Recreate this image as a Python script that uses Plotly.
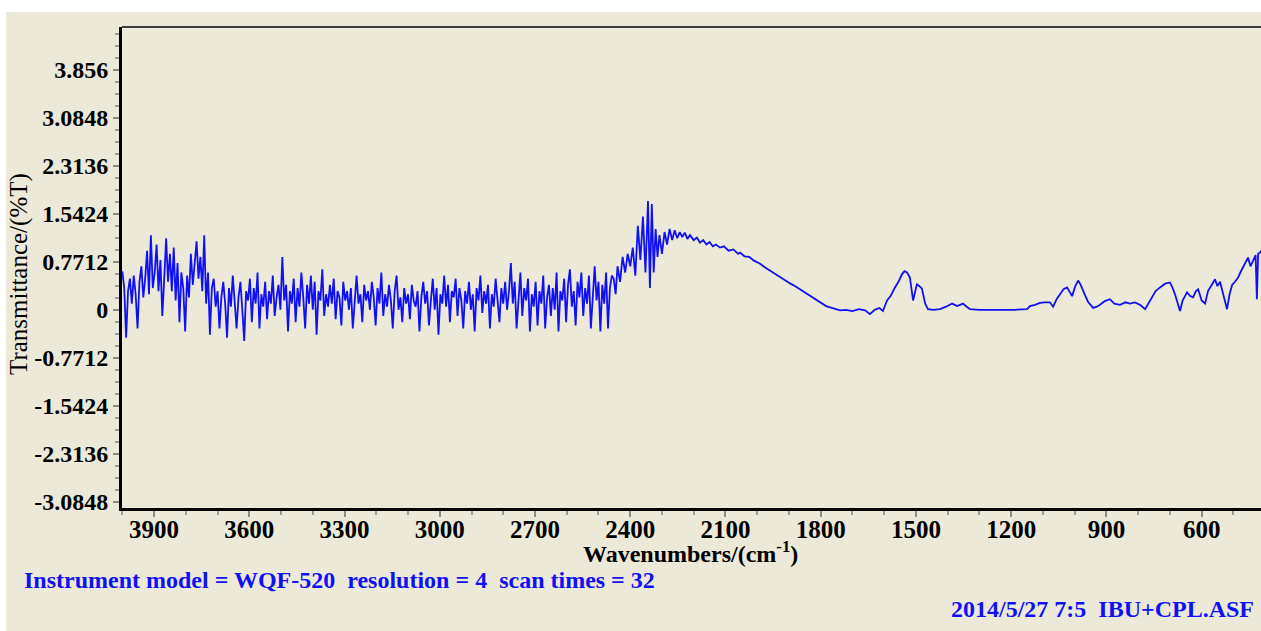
import plotly.graph_objects as go

# ---------------- data ----------------
# noisy region sampled every 6 cm-1 from 4000 down to 2458
noise_wavenumbers = list(range(4000, 2456, -6))
noise_values = [
    0.62, 0.35, -0.45, 0.3, 0.5, 0.1, 0.55, 0.25, -0.3, 0.45, 0.7, 0.2,
    0.5, 0.95, 0.25, 1.2, 0.35, 0.6, 1.05, 0.3, 0.8, -0.1, 0.5, 1.15,
    0.45, 0.9, 0.3, 1.0, 0.15, 0.75, -0.2, 0.6, 0.35, -0.35, 0.55, 0.2,
    0.9, 0.4, 0.75, 1.1, 0.5, 0.85, 0.3, 1.2, 0.1, 0.6, -0.4, 0.35,
    0.5, 0.05, 0.3, -0.3, 0.2, 0.45, 0.1, -0.45, 0.35, 0.05, 0.55, 0.15,
    -0.3, 0.2, 0.45, 0.0, -0.5, 0.3, 0.15, 0.5, -0.2, 0.35, 0.1, 0.6,
    -0.3, 0.25, 0.05, 0.45, -0.15, 0.3, 0.1, 0.55, -0.1, 0.2, 0.4, 0.0,
    0.85, 0.15, 0.4, -0.35, 0.3, 0.1, 0.5, -0.2, 0.35, 0.05, 0.6, 0.2,
    -0.3, 0.4, 0.1, 0.55, 0.0, 0.45, -0.4, 0.3, 0.15, 0.65, -0.1, 0.25,
    0.05, 0.4, 0.1, 0.5, -0.15, 0.3, 0.2, -0.25, 0.45, 0.15, 0.3, 0.0,
    0.35, -0.3, 0.2, 0.55, 0.1, 0.25, -0.2, 0.4, 0.15, 0.3, 0.0, 0.45,
    0.2, -0.25, 0.35, 0.1, 0.6, -0.1, 0.25, 0.05, 0.4, 0.15, -0.3, 0.3,
    0.55, 0.0, 0.2, -0.2, 0.35, 0.1, 0.25, -0.15, 0.4, 0.15, 0.05, 0.3,
    -0.35, 0.2, 0.45, 0.1, 0.3, -0.25, 0.15, 0.5, 0.0, 0.35, -0.4, 0.25,
    0.1, 0.55, 0.05, 0.4, -0.2, 0.3, 0.2, 0.5, -0.1, 0.35, 0.15, -0.3,
    0.3, 0.1, 0.45, 0.0, 0.25, -0.35, 0.35, 0.15, 0.55, -0.05, 0.3, 0.1,
    0.4, -0.3, 0.25, 0.05, 0.5, 0.15, -0.2, 0.35, 0.1, 0.45, 0.0, 0.3,
    0.75, 0.1, 0.45, -0.3, 0.2, 0.6, -0.1, 0.35, 0.15, 0.5, -0.35, 0.25,
    0.05, 0.45, -0.25, 0.3, 0.1, 0.55, -0.3, 0.2, 0.4, -0.1, 0.35, 0.0,
    0.6, -0.35, 0.3, 0.15, 0.5, -0.2, 0.4, 0.65, 0.05, 0.3, -0.25, 0.45,
    0.2, 0.6, -0.1, 0.35, 0.1, 0.55, -0.3, 0.3, 0.7, 0.15, 0.45, -0.35,
    0.4, 0.1, 0.6, -0.3, 0.35, 0.55,
]

# remaining spectrum (2452 cm-1 down to 412 cm-1)
band_wavenumbers = [
    2452, 2446, 2440, 2432, 2424, 2416, 2408, 2400, 2392, 2384,
    2376, 2368, 2360, 2352, 2344, 2338, 2332, 2326, 2320, 2314,
    2308, 2300, 2292, 2284, 2276, 2268, 2260, 2252, 2244, 2236,
    2228, 2220, 2212, 2200, 2190, 2180, 2170, 2160, 2150, 2140,
    2130, 2117, 2105, 2090, 2075, 2060, 2054, 2040, 2025, 2010,
    1991, 1975, 1960, 1945, 1928, 1910, 1895, 1880, 1865, 1850,
    1835, 1818, 1800, 1783, 1765, 1750, 1739, 1720, 1700, 1680,
    1660, 1645, 1630, 1615, 1604, 1591, 1580, 1566, 1555, 1544,
    1536, 1528, 1519, 1509, 1503, 1497, 1489, 1481, 1471, 1462,
    1445, 1424, 1405, 1386, 1370, 1352, 1340, 1330, 1300, 1267,
    1230, 1190, 1150, 1141, 1125, 1109, 1095, 1078, 1068, 1056,
    1046, 1035, 1024, 1016, 1008, 998, 989, 981, 974, 966,
    958, 950, 942, 930, 920, 905, 889, 875, 857, 840,
    826, 810, 794, 778, 766, 756, 745, 731, 715, 700,
    692, 684, 676, 668, 660, 646, 636, 627, 618, 611,
    600, 589, 580, 574, 566, 558, 550, 542, 530, 520,
    512, 504, 495, 485, 478, 470, 462, 454, 446, 438,
    430, 426, 422, 416, 412,
]
band_values = [
    0.5, 0.25, 0.7, 0.45, 0.85, 0.6, 0.9, 0.7, 1.0, 0.55,
    1.35, 0.8, 1.5, 0.6, 1.75, 0.35, 1.7, 0.6, 1.3, 0.85,
    1.2, 0.9, 1.25, 1.05, 1.3, 1.12, 1.28, 1.15, 1.25, 1.17,
    1.24, 1.14, 1.2, 1.12, 1.16, 1.08, 1.12, 1.05, 1.09, 1.02,
    1.05, 1.0, 1.02, 0.95, 0.97, 0.9, 0.92, 0.86, 0.85, 0.79,
    0.74, 0.68, 0.63, 0.58, 0.53, 0.47, 0.42, 0.38, 0.33, 0.28,
    0.22, 0.17, 0.11, 0.06, 0.03, 0.01, -0.01, 0.0, -0.02, 0.01,
    -0.01, -0.07, 0.0, 0.03, -0.02, 0.15, 0.22, 0.36, 0.45, 0.57,
    0.62, 0.6, 0.52, 0.15, 0.3, 0.41, 0.38, 0.34, 0.1, 0.01,
    0.0, 0.01, 0.05, 0.1, 0.06, 0.1, 0.05, 0.01, 0.0, 0.0,
    -0.01, 0.0, 0.01, 0.06, 0.08, 0.11, 0.12, 0.12, 0.05, 0.18,
    0.25, 0.33, 0.36, 0.3, 0.22, 0.38, 0.47, 0.4, 0.3, 0.22,
    0.13, 0.07, 0.03, 0.05, 0.08, 0.14, 0.17, 0.1, 0.08, 0.12,
    0.1, 0.12, 0.08, 0.01, 0.12, 0.2, 0.3, 0.36, 0.42, 0.44,
    0.36, 0.25, 0.12, -0.02, 0.15, 0.28, 0.22, 0.2, 0.3, 0.33,
    0.15, 0.1, 0.3, 0.36, 0.42, 0.49, 0.38, 0.45, 0.2, 0.01,
    0.25, 0.4, 0.45, 0.52, 0.6, 0.68, 0.75, 0.84, 0.7, 0.8,
    0.88, 0.17, 0.9, 0.92, 0.95,
]
assert len(noise_wavenumbers) == len(noise_values)
assert len(band_wavenumbers) == len(band_values)

y_tick_values = [-3.0848, -2.3136, -1.5424, -0.7712, 0, 0.7712, 1.5424, 2.3136, 3.0848, 3.856]
y_tick_labels = ["-3.0848", "-2.3136", "-1.5424", "-0.7712", "0", "0.7712", "1.5424", "2.3136", "3.0848", "3.856"]
x_tick_values = [3900, 3600, 3300, 3000, 2700, 2400, 2100, 1800, 1500, 1200, 900, 600]

x_title = "Wavenumbers/(cm<sup>-1</sup>)"
y_title = "Transmittance/(%T)"
footer_left = "Instrument model = WQF-520\u00a0\u00a0resolution = 4\u00a0\u00a0scan times = 32"
footer_right = "2014/5/27 7:5\u00a0\u00a0IBU+CPL.ASF"

# ---------------- figure ----------------
BG = "#ECE9D8"
BLUE = "#1010F5"
SERIF = "Liberation Serif"

fig = go.Figure()
fig.add_trace(go.Scatter(
    x=noise_wavenumbers + band_wavenumbers,
    y=noise_values + band_values,
    mode="lines",
    line=dict(color=BLUE, width=1.8),
    hoverinfo="skip",
    showlegend=False,
))

W, H = 1261, 631
L, R, T, B = 122, 0, 27, 123
pw, ph = W - L - R, H - T - B

def px_x(x):
    return (x - L) / pw

def px_y(y):
    return (H - B - y) / ph

fig.update_layout(
    width=W, height=H,
    margin=dict(l=L, r=R, t=T, b=B, pad=0),
    paper_bgcolor=BG,
    plot_bgcolor=BG,
    showlegend=False,
    xaxis=dict(
        range=[4001, 413],
        tickvals=x_tick_values,
        ticks="outside", ticklen=6, tickwidth=2, tickcolor="#8a8a8a",
        minor=dict(dtick=100, tick0=0, ticks="outside", ticklen=4, tickwidth=2, tickcolor="#9a9a9a"),
        showgrid=False, zeroline=False,
        showline=True, linecolor="black", linewidth=3,
        ticklabelstandoff=-9,
        tickfont=dict(family=SERIF, size=25, color="black", weight="bold"),
    ),
    yaxis=dict(
        range=[-3.187, 4.547],
        tickvals=y_tick_values, ticktext=y_tick_labels,
        ticks="outside", ticklen=6, tickwidth=2, tickcolor="#8a8a8a",
        minor=dict(dtick=0.1928, tick0=0, ticks="outside", ticklen=4, tickwidth=2, tickcolor="#9a9a9a"),
        showgrid=False, zeroline=False,
        showline=True, linecolor="black", linewidth=3,
        tickfont=dict(family=SERIF, size=24, color="black", weight="bold"),
    ),
    shapes=[
        # top frame line
        dict(type="line", xref="paper", yref="paper", x0=0, x1=1.01, y0=1, y1=1,
             line=dict(color="#3c3c3c", width=2)),
        # white strip along top
        dict(type="rect", xref="paper", yref="paper", x0=px_x(-2), x1=px_x(W + 2),
             y0=px_y(12), y1=px_y(-2), fillcolor="white", line=dict(width=0)),
        # white strip along left
        dict(type="rect", xref="paper", yref="paper", x0=px_x(-2), x1=px_x(6),
             y0=px_y(H + 2), y1=px_y(-2), fillcolor="white", line=dict(width=0)),
    ],
    annotations=[
        dict(text=y_title, xref="paper", yref="paper", x=px_x(19), y=px_y(274),
             xanchor="center", yanchor="middle", textangle=-90, showarrow=False,
             font=dict(family=SERIF, size=25, color="black")),
        dict(text=x_title, xref="paper", yref="paper", x=px_x(690), y=px_y(552),
             xanchor="center", yanchor="middle", showarrow=False,
             font=dict(family=SERIF, size=24, color="black", weight="bold")),
        dict(text=footer_left, xref="paper", yref="paper", x=px_x(22), y=px_y(580),
             xanchor="left", yanchor="middle", showarrow=False,
             font=dict(family=SERIF, size=24, color=BLUE, weight="bold")),
        dict(text=footer_right, xref="paper", yref="paper", x=px_x(1256), y=px_y(609),
             xanchor="right", yanchor="middle", showarrow=False,
             font=dict(family=SERIF, size=24, color=BLUE, weight="bold")),
    ],
)

fig.write_html("out.html")
